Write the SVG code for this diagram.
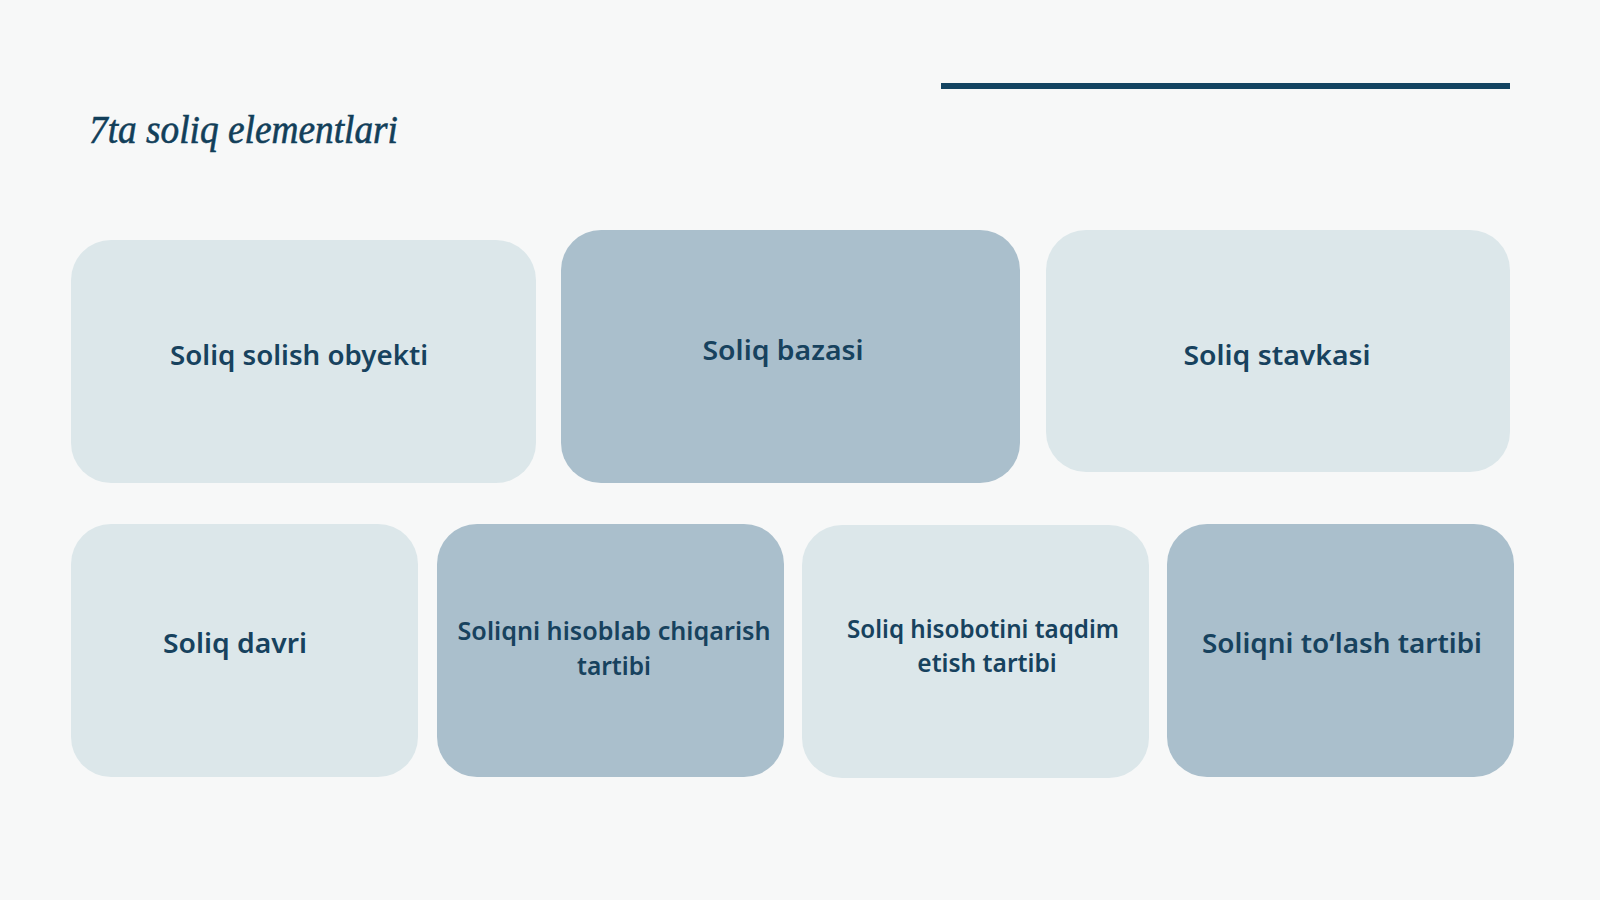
<svg xmlns="http://www.w3.org/2000/svg" width="1600" height="900" viewBox="0 0 1600 900">
<style>
.light{fill:#dce7ea}
.dark{fill:#aabfcc}
.lbl{font-family:"Noto Sans","Liberation Sans",sans-serif;font-weight:600;fill:#17425e;text-anchor:middle}
.big{font-size:27px}
.small{font-size:24.5px}
.title{font-family:"Liberation Serif","DejaVu Serif",serif;font-style:italic;font-size:41px;fill:#123f5a;stroke:#123f5a;stroke-width:0.6}
</style>
<rect width="1600" height="900" fill="#f7f8f8"/>
<line x1="941" y1="86" x2="1510" y2="86" stroke="#134461" stroke-width="6"/>
<text class="title" x="89" y="143" textLength="309" lengthAdjust="spacingAndGlyphs">7ta soliq elementlari</text>
<g id="connectors"></g>
<g id="n1"><rect class="light" x="71" y="240" width="465" height="243" rx="40"/><text class="lbl big" x="299" y="365" textLength="258" lengthAdjust="spacingAndGlyphs">Soliq solish obyekti</text></g>
<g id="n2"><rect class="dark" x="561" y="230" width="459" height="253" rx="40"/><text class="lbl big" x="783" y="360" textLength="161" lengthAdjust="spacingAndGlyphs">Soliq bazasi</text></g>
<g id="n3"><rect class="light" x="1046" y="230" width="464" height="242" rx="40"/><text class="lbl big" x="1277" y="365" textLength="187" lengthAdjust="spacingAndGlyphs">Soliq stavkasi</text></g>
<g id="n4"><rect class="light" x="71" y="524" width="347" height="253" rx="40"/><text class="lbl big" x="235" y="653" textLength="144" lengthAdjust="spacingAndGlyphs">Soliq davri</text></g>
<g id="n5"><rect class="dark" x="437" y="524" width="347" height="253" rx="40"/><text class="lbl small" x="614" y="640" textLength="313" lengthAdjust="spacingAndGlyphs">Soliqni hisoblab chiqarish</text><text class="lbl small" x="614" y="675">tartibi</text></g>
<g id="n6"><rect class="light" x="802" y="525" width="347" height="253" rx="40"/><text class="lbl small" x="983" y="638" textLength="272" lengthAdjust="spacingAndGlyphs">Soliq hisobotini taqdim</text><text class="lbl small" x="987" y="672">etish tartibi</text></g>
<g id="n7"><rect class="dark" x="1167" y="524" width="347" height="253" rx="40"/><text class="lbl big" x="1342" y="653" textLength="280" lengthAdjust="spacingAndGlyphs">Soliqni to‘lash tartibi</text></g>
</svg>
